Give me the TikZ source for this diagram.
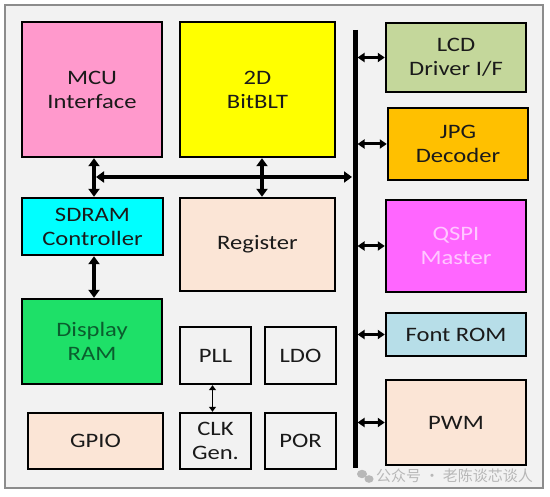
\documentclass[tikz,border=0pt]{standalone}
\usepackage{fontspec}
\setmainfont{Carlito}[FakeStretch=1.2]
\newfontfamily\cjk{Noto Sans CJK SC}
\usetikzlibrary{arrows.meta}
\definecolor{framefill}{HTML}{F2F2F2}
\definecolor{framedraw}{HTML}{8C8C8C}
\definecolor{cpink}{HTML}{FF99CC}
\definecolor{cyellow}{HTML}{FFFF00}
\definecolor{ccyan}{HTML}{00FFFF}
\definecolor{cpeach}{HTML}{FBE5D6}
\definecolor{cgreen}{HTML}{1EE068}
\definecolor{cgreentext}{HTML}{0B5D2E}
\definecolor{cgray}{HTML}{F2F2F2}
\definecolor{clcd}{HTML}{C4D79B}
\definecolor{cjpg}{HTML}{FFC000}
\definecolor{cqspi}{HTML}{FF66FF}
\definecolor{cqspitext}{HTML}{FFC8FF}
\definecolor{cfont}{HTML}{B7DEE8}
\definecolor{ctext}{HTML}{1A1A1A}
\definecolor{cwater}{HTML}{B8B8B8}
\begin{document}
\begin{tikzpicture}[x=1pt,y=-1pt,
  box/.style={draw=black, line width=2.4pt, align=center, inner sep=0pt,
    text=ctext, font=\fontsize{20.5}{24}\selectfont},
  bigarrow/.style={line width=3.5pt, {Triangle[length=8pt,width=11pt]}-{Triangle[length=8pt,width=11pt]}},
  sidearrow/.style={line width=3pt, {Triangle[length=7pt,width=9pt]}-{Triangle[length=7pt,width=9pt]}},
  thinarrow/.style={line width=1.8pt, {Triangle[length=5pt,width=7pt]}-{Triangle[length=5pt,width=7pt]}},
  busline/.style={line width=5pt}
]
\useasboundingbox (0,0) rectangle (550,497);
\draw[draw=framedraw, line width=2pt, fill=framefill] (5,5) rectangle (543,488);

% left and middle blocks
\node[box, fill=cpink, minimum width=140pt, minimum height=135pt] (mcu) at (92,89.5) {MCU\\Interface};
\node[box, fill=cyellow, minimum width=155pt, minimum height=135pt] (blt) at (257.5,89.5) {2D\\BitBLT};
\node[box, fill=ccyan, minimum width=141pt, minimum height=57pt] (sdram) at (92.5,226.5) {SDRAM\\Controller};
\node[box, fill=cpeach, minimum width=155pt, minimum height=93pt] (reg) at (257.5,244.5) {Register};
\node[box, fill=cgreen, text=cgreentext, minimum width=140pt, minimum height=85pt] (dram) at (92,341.5) {Display\\RAM};
\node[box, fill=cpeach, minimum width=135pt, minimum height=56pt] (gpio) at (95.5,441) {GPIO};
\node[box, fill=cgray, minimum width=71pt, minimum height=57pt] (pll) at (215.5,355.5) {PLL};
\node[box, fill=cgray, minimum width=71pt, minimum height=56pt] (clk) at (215.5,441) {CLK\\Gen.};
\node[box, fill=cgray, minimum width=71pt, minimum height=57pt] (ldo) at (300.5,355.5) {LDO};
\node[box, fill=cgray, minimum width=71pt, minimum height=56pt] (por) at (300.5,441) {POR};

% right blocks
\node[box, fill=clcd, minimum width=140pt, minimum height=69pt] (lcd) at (456,57.5) {LCD\\Driver I/F};
\node[box, fill=cjpg, minimum width=140pt, minimum height=72pt] (jpg) at (458,144) {JPG\\Decoder};
\node[box, fill=cqspi, text=cqspitext, minimum width=140pt, minimum height=92pt] (qspi) at (456,246) {QSPI\\Master};
\node[box, fill=cfont, minimum width=140pt, minimum height=43pt] (font) at (456,334.5) {Font ROM};
\node[box, fill=cpeach, minimum width=140pt, minimum height=85pt] (pwm) at (456,422.5) {PWM};

% bus
\coordinate (bustop) at (355,30);
\coordinate (busbot) at (355,468);
\draw[busline] (bustop) -- (busbot);

% vertical arrows
\draw[bigarrow] ([xshift=2pt]mcu.south) -- ([xshift=1.5pt]sdram.north);
\draw[bigarrow] ([xshift=4.5pt]blt.south) -- ([xshift=4.5pt]reg.north);
\draw[bigarrow] ([xshift=1.5pt]sdram.south) -- ([xshift=2pt]dram.north);
\draw[thinarrow] ([xshift=-3pt]pll.south) -- ([xshift=-3pt]clk.north);

% horizontal branch to bus
\coordinate (jn) at (96,177);
\draw[line width=3.5pt, {Triangle[length=8pt,width=11pt]}-{Triangle[length=8pt,width=11pt]}, shorten >=3pt] (jn) -- (jn -| bustop);

% bus to right blocks
\foreach \n in {lcd,jpg,qspi,font,pwm}{
  \draw[sidearrow, shorten <=2.5pt] (\n.west -| bustop) -- (\n.west);
}

% watermark
\fill[cwater] (362,474) ellipse (5pt and 4.2pt);
\fill[cwater] (369,479) ellipse (4.5pt and 3.8pt);
\node[text=cwater, font=\cjk\fontsize{15}{18}\selectfont, anchor=west, inner sep=0pt] (wm) at (376,476) {公众号 · 老陈谈芯谈人};
\end{tikzpicture}
\end{document}
